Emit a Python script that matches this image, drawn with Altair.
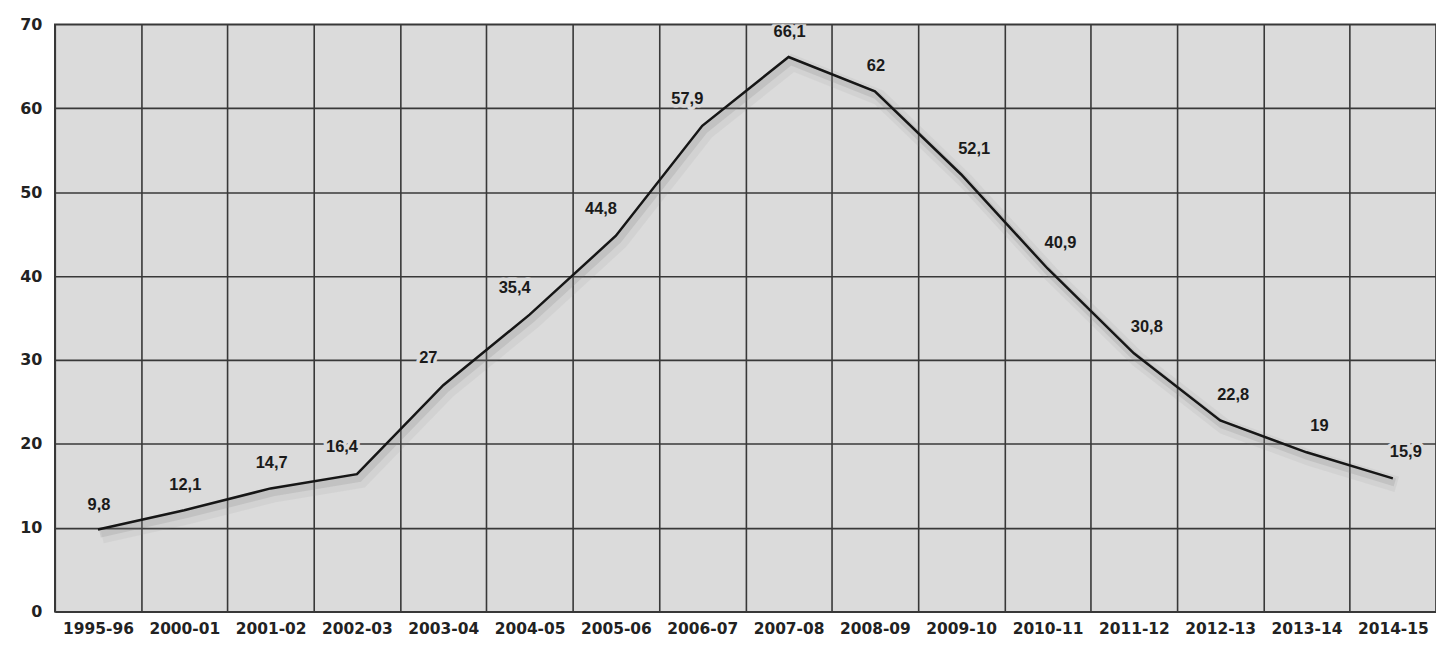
import altair as alt
import pandas as pd

years = ["1995-96", "2000-01", "2001-02", "2002-03", "2003-04", "2004-05", "2005-06",
         "2006-07", "2007-08", "2008-09", "2009-10", "2010-11", "2011-12", "2012-13",
         "2013-14", "2014-15"]
values = [9.8, 12.1, 14.7, 16.4, 27, 35.4, 44.8, 57.9, 66.1, 62, 52.1, 40.9, 30.8, 22.8, 19, 15.9]
labels = ["9,8", "12,1", "14,7", "16,4", "27", "35,4", "44,8", "57,9", "66,1", "62",
          "52,1", "40,9", "30,8", "22,8", "19", "15,9"]

# label placement groups (left of line while rising, right while falling)
center_years = ["1995-96", "2000-01", "2001-02", "2007-08", "2008-09"]
rising_years = ["2002-03", "2003-04", "2004-05", "2005-06", "2006-07"]
falling_years = ["2009-10", "2010-11", "2011-12", "2012-13", "2013-14", "2014-15"]

df = pd.DataFrame({"year": years, "value": values, "label": labels})

BG = "#dbdbdb"
AXFONT = "DejaVu Sans"
LBFONT = "Liberation Sans"

x = alt.X("year:O", sort=years,
          scale=alt.Scale(type="band", paddingInner=0, paddingOuter=0),
          axis=alt.Axis(title=None, labelAngle=0, tickBand="extent", grid=True,
                        gridColor="#383838", gridWidth=1.6, ticks=False, domain=False,
                        labelFont=AXFONT, labelFontWeight="bold", labelFontSize=15.5,
                        labelColor="#222222", labelPadding=10))
y = alt.Y("value:Q",
          scale=alt.Scale(domain=[0, 70], nice=False),
          axis=alt.Axis(title=None, values=[0, 10, 20, 30, 40, 50, 60, 70], grid=True,
                        gridColor="#383838", gridWidth=1.6, ticks=False, domain=False,
                        labelFont=AXFONT, labelFontWeight="bold", labelFontSize=16,
                        labelColor="#222222", labelPadding=13))

base = alt.Chart(df)

shadow1 = base.mark_line(stroke="#8a8a8a", strokeWidth=16, opacity=0.10,
                         xOffset=4, yOffset=6).encode(x=x, y=y)
shadow2 = base.mark_line(stroke="#7a7a7a", strokeWidth=8, opacity=0.18,
                         xOffset=2, yOffset=4).encode(x=x, y=y)
line = base.mark_line(stroke="#161616", strokeWidth=2.5).encode(x=x, y=y)


def text_layers(group, dx, dy):
    sub = base.transform_filter(alt.FieldOneOfPredicate(field="year", oneOf=group))
    halo = sub.mark_text(font=LBFONT, fontWeight="bold", fontSize=16.5, dx=dx, dy=dy,
                         stroke=BG, strokeWidth=7, strokeJoin="round", color=BG,
                         clip=True).encode(x=x, y=y, text="label:N")
    txt = sub.mark_text(font=LBFONT, fontWeight="bold", fontSize=16.5, dx=dx, dy=dy,
                        color="#1a1a1a").encode(x=x, y=y, text="label:N")
    return halo, txt


h1, t1 = text_layers(center_years, 1, -25)
h2, t2 = text_layers(rising_years, -15, -27)
h3, t3 = text_layers(falling_years, 13, -26)

chart = alt.layer(shadow1, shadow2, h1, h2, h3, line, t1, t2, t3).properties(
    width=1387, height=590,
    autosize=alt.AutoSizeParams(type="none"),
    padding={"left": 47, "top": 15, "right": 0, "bottom": 25},
    background="white",
).configure_view(fill=BG, stroke="#383838", strokeWidth=1.6)

chart.save("out.html", embed_options={"renderer": "svg", "actions": False})
